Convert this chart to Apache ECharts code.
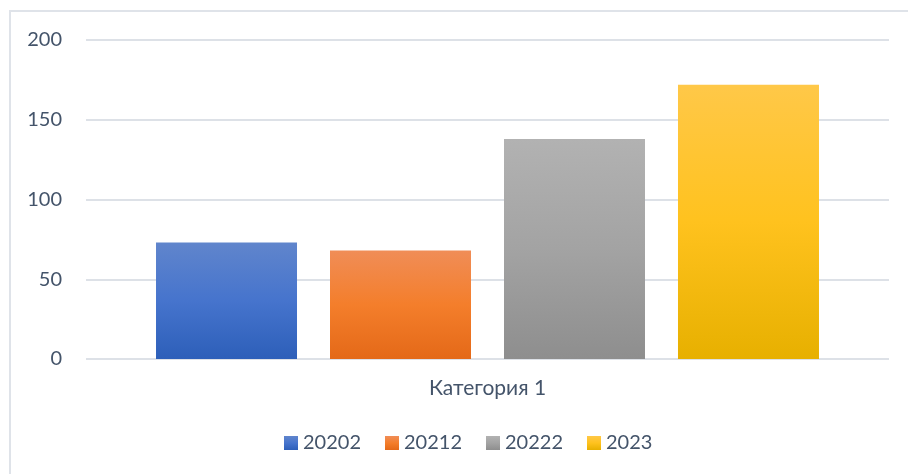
<!DOCTYPE html>
<html>
<head>
<meta charset="utf-8">
<script src="https://cdn.jsdelivr.net/npm/echarts@6/dist/echarts.min.js"></script>
<style>
  html, body { margin: 0; padding: 0; background: #fff; }
  #frame { position: absolute; left: 9px; top: 10px; width: 899px; height: 464px;
           border-top: 2px solid #dfe3e9; border-left: 2px solid #dfe3e9; box-sizing: border-box; }
  #chart { position: absolute; left: 0; top: 0; width: 908px; height: 474px; }
</style>
</head>
<body>
<div id="frame"></div>
<div id="chart"></div>
<script>
const categories = ['Категория 1']
const seriesNames = ['20202', '20212', '20222', '2023']
const seriesValues = [[73], [68], [138], [172]]
const yTicks = [0, 50, 100, 150, 200]

// top / middle / bottom of each bar's gradient
const gradients = [
  ['#6085cc', '#4674cd', '#2d5fb9'],
  ['#f08d57', '#f47e2b', '#e46918'],
  ['#b2b2b2', '#a3a3a3', '#8e8e8e'],
  ['#ffc848', '#ffc21e', '#e7b000']
]

const textColor = '#44546a'
const font = 'Lato, "Open Sans", sans-serif'

const chartDom = document.getElementById('chart')
const myChart = echarts.init(chartDom)

const grad = c => new echarts.graphic.LinearGradient(0, 0, 0, 1, [
  { offset: 0, color: c[0] },
  { offset: 0.5, color: c[1] },
  { offset: 1, color: c[2] }
])

const option = {
  animation: false,
  textStyle: { fontFamily: font },
  grid: { left: 86, right: 19, top: 40, bottom: 115 },
  legend: {
    bottom: 16,
    left: 279,
    itemWidth: 14,
    itemHeight: 14,
    itemGap: 24,
    icon: 'rect',
    textStyle: { color: textColor, fontSize: 20, fontFamily: font },
    data: seriesNames
  },
  xAxis: {
    type: 'category',
    data: categories,
    axisLine: { show: false },
    axisTick: { show: false },
    axisLabel: { color: textColor, fontSize: 21, margin: 19 }
  },
  yAxis: {
    type: 'value',
    min: yTicks[0],
    max: yTicks[yTicks.length - 1],
    interval: 50,
    axisLine: { show: false },
    axisTick: { show: false },
    axisLabel: { color: textColor, fontSize: 20, margin: 24 },
    splitLine: { lineStyle: { color: '#dde1e7', width: 2 } }
  },
  series: seriesNames.map((name, i) => ({
    name: name,
    type: 'bar',
    data: seriesValues[i],
    barWidth: 141,
    barGap: '23.4%',
    itemStyle: { color: grad(gradients[i]) }
  }))
}
option && myChart.setOption(option)
</script>
</body>
</html>
